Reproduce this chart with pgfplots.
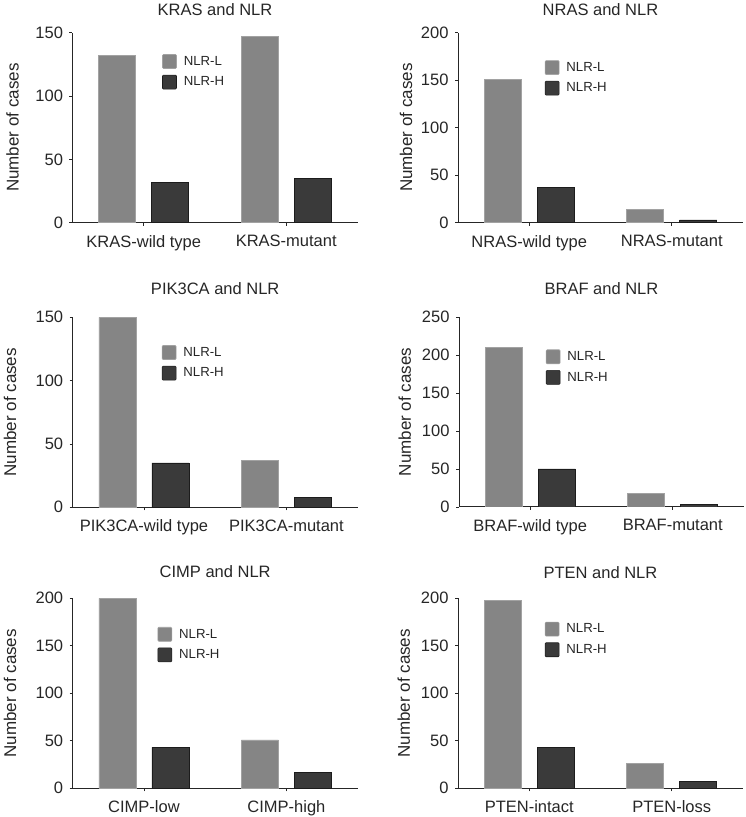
\documentclass[border=0pt]{standalone}
\usepackage{pgfplots}
\pgfplotsset{compat=1.18}
\usepackage{fontspec}
\setmainfont{Liberation Sans}
\definecolor{nlrl}{HTML}{858585}
\definecolor{nlrlE}{HTML}{A2A2A2}
\definecolor{nlrh}{HTML}{3A3A3A}
\definecolor{nlrhE}{HTML}{1C1C1C}
\pgfplotsset{
  panel/.style={
    scale only axis, width=285pt, height=190pt,
    anchor=south west,
    xmin=-0.5, xmax=1.5, ymin=0,
    axis x line*=bottom, axis y line*=left,
    axis line style={line width=1pt, color=black!85},
    xtick={0,1},
    tick style={line width=0.8pt, color=black!85},
    major tick length=3pt,
    tick align=outside,
    /pgf/number format/assume math mode=true,
    tick label style={font=\fontsize{16.5}{19}\selectfont, text=black!85},
    xticklabel style={yshift=-6pt},
    yticklabel style={xshift=-3pt},
    title style={font=\fontsize{16.5}{19}\selectfont, anchor=center, at={(axis description cs:0.5,1)}, text=black!85},
    label style={font=\fontsize{17}{20}\selectfont, text=black!85},
    ylabel={Number of cases},
    ylabel style={anchor=center},
    legend style={draw=none, fill=none, anchor=north west,
      font=\fontsize{13.2}{15}\selectfont, row sep=6pt, inner sep=0pt,
      text=black!85, /tikz/every odd column/.append style={column sep=5pt}},
    legend cell align=left,
  },
  Lbar/.style={ybar, bar width=0.26, bar shift=-0.186, fill=nlrl, draw=nlrlE, line width=0.6pt,
    legend image code/.code={\draw[fill=nlrl, draw=nlrlE, line width=0.6pt, rounded corners=1pt] (0pt,-7pt) rectangle (14pt,7pt);}},
  Hbar/.style={ybar, bar width=0.26, bar shift=0.186, fill=nlrh, draw=nlrhE, line width=0.6pt,
    legend image code/.code={\draw[fill=nlrh, draw=nlrhE, line width=0.6pt, rounded corners=1pt] (0pt,-7pt) rectangle (14pt,7pt);}},
}
\begin{document}
\begin{tikzpicture}
\path[use as bounding box] (0pt,0pt) rectangle (746pt,817pt);

% KRAS
\begin{axis}[panel, at={(72.5pt,594.3pt)}, ymax=150, ytick={0,50,100,150},
  xticklabels={KRAS-wild type, KRAS-mutant},
  title={KRAS and NLR}, title style={yshift=16.7pt},
  ylabel style={at={(axis description cs:-0.21,0.5)}},
  legend style={at={(axis description cs:0.314,0.888)}}]
\addplot[Lbar] coordinates {(0,132) (1,147)};
\addplot[Hbar] coordinates {(0,32) (1,35)};
\legend{NLR-L, NLR-H}
\end{axis}

% NRAS
\begin{axis}[panel, at={(458pt,594.3pt)}, ymax=200, ytick={0,50,100,150,200},
  xticklabels={NRAS-wild type, NRAS-mutant},
  title={NRAS and NLR}, title style={yshift=16.7pt},
  ylabel style={at={(axis description cs:-0.182,0.5)}},
  legend style={at={(axis description cs:0.304,0.856)}}]
\addplot[Lbar] coordinates {(0,151) (1,14)};
\addplot[Hbar] coordinates {(0,37) (1,3)};
\legend{NLR-L, NLR-H}
\end{axis}

% PIK3CA
\begin{axis}[panel, at={(72.7pt,309.7pt)}, ymax=150, ytick={0,50,100,150},
  xticklabels={PIK3CA-wild type, PIK3CA-mutant},
  title={PIK3CA and NLR}, title style={yshift=23pt},
  ylabel style={at={(axis description cs:-0.22,0.5)}},
  legend style={at={(axis description cs:0.312,0.854)}}]
\addplot[Lbar] coordinates {(0,150) (1,37)};
\addplot[Hbar] coordinates {(0,35) (1,8)};
\legend{NLR-L, NLR-H}
\end{axis}

% BRAF
\begin{axis}[panel, at={(459pt,310pt)}, ymax=250, ytick={0,50,100,150,200,250},
  xticklabels={BRAF-wild type, BRAF-mutant},
  title={BRAF and NLR}, title style={yshift=22.7pt},
  ylabel style={at={(axis description cs:-0.19,0.5)}},
  legend style={at={(axis description cs:0.304,0.83)}}]
\addplot[Lbar] coordinates {(0,210) (1,18)};
\addplot[Hbar] coordinates {(0,50) (1,3)};
\legend{NLR-L, NLR-H}
\end{axis}

% CIMP
\begin{axis}[panel, at={(72.7pt,28.7pt)}, ymax=200, ytick={0,50,100,150,200},
  xticklabels={CIMP-low, CIMP-high},
  title={CIMP and NLR}, title style={yshift=21pt},
  ylabel style={at={(axis description cs:-0.22,0.5)}},
  legend style={at={(axis description cs:0.297,0.85)}}]
\addplot[Lbar] coordinates {(0,200) (1,51)};
\addplot[Hbar] coordinates {(0,43) (1,17)};
\legend{NLR-L, NLR-H}
\end{axis}

% PTEN
\begin{axis}[panel, at={(458pt,28.7pt)}, ymax=200, ytick={0,50,100,150,200},
  xticklabels={PTEN-intact, PTEN-loss},
  title={PTEN and NLR}, title style={yshift=20pt},
  ylabel style={at={(axis description cs:-0.19,0.5)}},
  legend style={at={(axis description cs:0.304,0.877)}}]
\addplot[Lbar] coordinates {(0,198) (1,26)};
\addplot[Hbar] coordinates {(0,43) (1,7)};
\legend{NLR-L, NLR-H}
\end{axis}
\end{tikzpicture}
\end{document}
